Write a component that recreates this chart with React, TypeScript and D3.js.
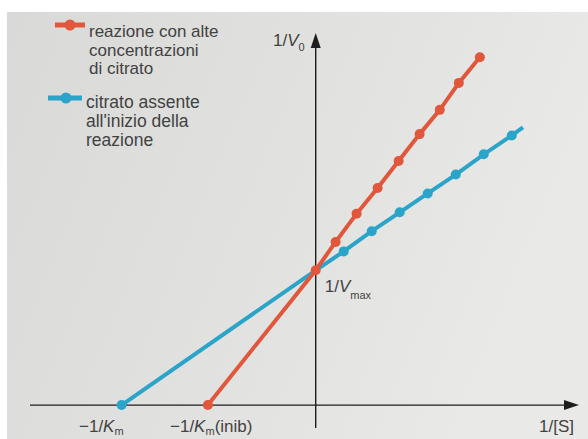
import React from 'react'
import * as d3 from 'd3'

// 1/[S] and 1/V0 (1/Vmax = 1)
const redX = [-3.85, 0, 0.71, 1.46, 2.21, 2.96, 3.71, 4.43, 5.11, 5.86]
const redY = [0, 1, 1.21, 1.42, 1.61, 1.81, 2.01, 2.19, 2.39, 2.58]
const blueX = [-6.93, 0, 1, 2, 3, 4, 5, 6, 7, 7.4]
const blueY = [0, 1, 1.14, 1.29, 1.43, 1.57, 1.71, 1.86, 2.0, 2.06]
// which points get a dot
const redDots = [true, true, true, true, true, true, true, true, true, true]
const blueDots = [true, false, true, true, true, true, true, true, true, false]

const redLegend = ['reazione con alte', 'concentrazioni', 'di citrato']
const blueLegend = ['citrato assente', "all'inizio della", 'reazione']

const RED = '#e0573b'
const BLUE = '#2ba4c9'
const INK = '#424242'

const W = 588, H = 439

const App = () => {
    const x = d3.scaleLinear().domain([-10.2, 9.4]).range([30, 579])
    const y = d3.scaleLinear().domain([-0.17, 2.76]).range([428, 33])

    const x0 = x(0), y0 = y(0)

    const line = d3.line<[number, number]>()
        .x(d => x(d[0]))
        .y(d => y(d[1]))

    const red = redX.map((v, i) => [v, redY[i]] as [number, number])
    const blue = blueX.map((v, i) => [v, blueY[i]] as [number, number])

    const font = { fontFamily: '"Liberation Sans", Arial, sans-serif', fill: INK }

    return (
        <svg width={W} height={H} style={{ position: 'absolute', left: 0, top: 0, background: '#fff' }}>
            <defs>
                <linearGradient id="paper" x1="0" y1="0" x2="1" y2="0.3">
                    <stop offset="0" stopColor="#d9d9d7" />
                    <stop offset="0.6" stopColor="#e2e2e0" />
                    <stop offset="1" stopColor="#e9e9e7" />
                </linearGradient>
            </defs>
            <rect x={7} y={12} width={W - 7} height={H - 12} fill="url(#paper)" />

            {/* axes */}
            <g stroke="#1e1e1e" strokeWidth={1.4}>
                <line x1={x(-10.2)} x2={x(9.0)} y1={y0} y2={y0} />
                <line x1={x0} x2={x0} y1={y(-0.17)} y2={y(2.68)} />
            </g>
            <path d={`M${x(9.4)},${y0} L${x(9.4) - 15},${y0 - 5} L${x(9.4) - 15},${y0 + 5} Z`} fill="#1e1e1e" />
            <path d={`M${x0},${y(2.76)} L${x0 - 5},${y(2.76) + 15} L${x0 + 5},${y(2.76) + 15} Z`} fill="#1e1e1e" />

            {/* series */}
            <path d={line(blue) || ''} fill="none" stroke={BLUE} strokeWidth={4} />
            {blue.map((d, i) => blueDots[i] &&
                <circle key={'b' + i} cx={x(d[0])} cy={y(d[1])} r={5} fill={BLUE} />)}
            <path d={line(red) || ''} fill="none" stroke={RED} strokeWidth={4} />
            {red.map((d, i) => redDots[i] &&
                <circle key={'r' + i} cx={x(d[0])} cy={y(d[1])} r={5} fill={RED} />)}

            {/* axis labels */}
            <text x={273} y={46} fontSize={17} {...font}>1/<tspan fontStyle="italic">V</tspan><tspan fontSize={11} dy={5}>0</tspan></text>
            <text x={x0 + 9} y={y(1) + 22} fontSize={17} {...font}>1/<tspan fontStyle="italic">V</tspan><tspan fontSize={11} dy={7}>max</tspan></text>
            <text x={79} y={432} fontSize={17} {...font}>−1/<tspan fontStyle="italic">K</tspan><tspan fontSize={11} dy={3}>m</tspan></text>
            <text x={170} y={432} fontSize={17} {...font}>−1/<tspan fontStyle="italic">K</tspan><tspan fontSize={11} dy={3}>m</tspan><tspan dy={-3}>(inib)</tspan></text>
            <text x={539} y={432} fontSize={17} {...font}>1/[S]</text>

            {/* legend */}
            <line x1={55} x2={85} y1={25} y2={25} stroke={RED} strokeWidth={5} />
            <circle cx={70} cy={25} r={5.5} fill={RED} />
            {redLegend.map((t, i) =>
                <text key={t} x={89} y={37 + i * 18.5} fontSize={17} {...font}>{t}</text>)}
            <line x1={48} x2={82} y1={98} y2={98} stroke={BLUE} strokeWidth={5} />
            <circle cx={66} cy={98} r={5.5} fill={BLUE} />
            {blueLegend.map((t, i) =>
                <text key={t} x={86} y={108 + i * 19} fontSize={17.5} {...font}>{t}</text>)}
        </svg>
    )
}

export default App
